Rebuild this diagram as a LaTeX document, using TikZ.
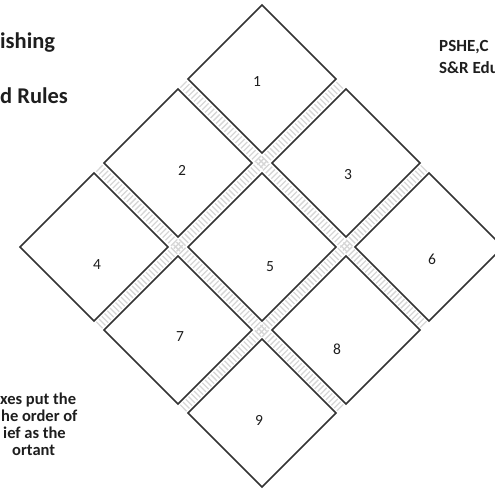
\documentclass[tikz,border=0pt]{standalone}
\usepackage{fontspec}
\setmainfont{Carlito}
\usetikzlibrary{shapes.geometric,calc}
\definecolor{linec}{HTML}{333333}
\definecolor{txtc}{HTML}{1E1E1E}
\begin{document}
\begin{tikzpicture}[x=1pt,y=-1pt,
  sq/.style={diamond,aspect=1,draw=linec,line width=1.5pt,fill=white,
    minimum width=148pt,minimum height=148pt,inner sep=0pt,outer sep=0pt},
  num/.style={font=\fontsize{15.5}{15.5}\selectfont,text=txtc,inner sep=0pt},
  gapfill/.style={draw=gray!32,line width=9pt,dash pattern=on 1.3pt off 2.6pt},
  bigtxt/.style={font=\fontsize{22.5}{22.5}\selectfont\bfseries,text=txtc,inner sep=0pt,anchor=base west},
  midtxt/.style={font=\fontsize{17}{17}\selectfont\bfseries,text=txtc,inner sep=0pt,anchor=base west},
  smalltxt/.style={font=\fontsize{16.5}{16.5}\selectfont\bfseries,text=txtc,inner sep=0pt,anchor=base west}]
\useasboundingbox (0,0) rectangle (495,489);
\clip (0,0) rectangle (495,489);
% squares
\node[sq] (s1) at (262,79) {};
\node[sq] (s2) at (178,163) {};
\node[sq] (s3) at (346,163) {};
\node[sq] (s4) at (94,247) {};
\node[sq] (s5) at (262,247) {};
\node[sq] (s6) at (429,247) {};
\node[sq] (s7) at (178,330) {};
\node[sq] (s8) at (346,330) {};
\node[sq] (s9) at (262,413) {};
% textured gaps
\draw[gapfill] ($(s1.west)!0.5!(s2.north)$) -- ($(s6.south)!0.5!(s8.east)$);
\draw[gapfill] ($(s2.west)!0.5!(s4.north)$) -- ($(s8.south)!0.5!(s9.east)$);
\draw[gapfill] ($(s4.south)!0.5!(s7.west)$) -- ($(s1.east)!0.5!(s3.north)$);
\draw[gapfill] ($(s7.south)!0.5!(s9.west)$) -- ($(s3.east)!0.5!(s6.north)$);
% numbers
\node[num] (n1) at (257,82) {1};
\node[num] (n2) at (182,170) {2};
\node[num] (n3) at (348,175) {3};
\node[num] (n4) at (97,265) {4};
\node[num] (n5) at (270,267) {5};
\node[num] (n6) at (432,259) {6};
\node[num] (n7) at (180,337) {7};
\node[num] (n8) at (337,349) {8};
\node[num] (n9) at (259,420) {9};
% texts
\node[bigtxt] (t1) at (0,49) {ishing};
\node[bigtxt] (t2) at (0,104) {d Rules};
\node[midtxt] (r1) at (439,52) {PSHE,C};
\node[midtxt] (r2) at (439,74) {S\&R Edu};
\node[smalltxt] (b1) at (0,404) {xes put the};
\node[smalltxt] (b2) at (1,421) {he order of};
\node[smalltxt] (b3) at (3,438) {ief as the};
\node[smalltxt] (b4) at (12,455) {ortant};
\end{tikzpicture}
\end{document}
